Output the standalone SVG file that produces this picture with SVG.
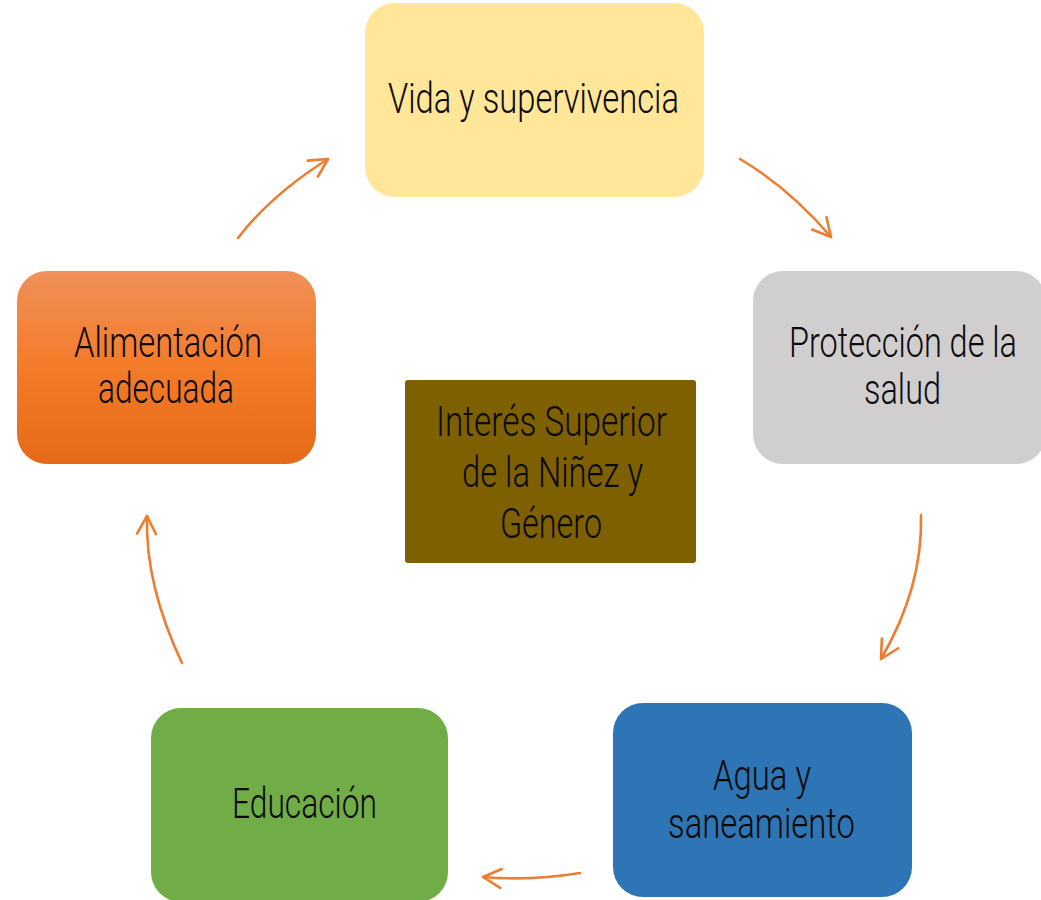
<svg xmlns="http://www.w3.org/2000/svg" width="1041" height="900" viewBox="0 0 1041 900">
<style>
  .lbl { font-family: "Roboto", "Liberation Sans Narrow", "Liberation Sans", sans-serif; font-weight: 300; font-size: 42px; fill: #0a0a0a; text-anchor: middle; }
  .conn { fill: none; stroke: #ED7D31; stroke-width: 2.6; stroke-linecap: round; marker-end: url(#arrow); }
</style>
<defs>
  <marker id="arrow" markerUnits="userSpaceOnUse" markerWidth="26" markerHeight="26" viewBox="-22 -13 26 26" refX="0" refY="0" orient="auto" overflow="visible">
    <path d="M -18,-9.5 L 0,0 L -18,9.5" fill="none" stroke="#ED7D31" stroke-width="2.6" stroke-linecap="round" stroke-linejoin="round"/>
  </marker>
  <linearGradient id="orangeGrad" x1="0" y1="0" x2="0" y2="1">
    <stop offset="0" stop-color="#F0905A"/>
    <stop offset="0.5" stop-color="#F47B28"/>
    <stop offset="1" stop-color="#E56A17"/>
  </linearGradient>
</defs>
<rect width="1041" height="900" fill="#ffffff"/>

<g id="connectors">
  <path class="conn" d="M 238,238 Q 271,195 328,159"/>
  <path class="conn" d="M 740,159 Q 789,188 831,237"/>
  <path class="conn" d="M 921,515 Q 923,587 881,659"/>
  <path class="conn" d="M 580,873 Q 531,881 483,877"/>
  <path class="conn" d="M 182,663 Q 145,585 147,516"/>
</g>

<g id="node-vida">
  <rect x="365" y="3" width="339" height="194" rx="30" fill="#FFE699"/>
  <text class="lbl" x="533.5" y="113" textLength="291" lengthAdjust="spacingAndGlyphs">Vida y supervivencia</text>
</g>

<g id="node-salud">
  <rect x="753" y="271" width="293" height="193" rx="30" fill="#D0CECE"/>
  <text class="lbl" x="903" y="357" textLength="228" lengthAdjust="spacingAndGlyphs">Protección de la</text>
  <text class="lbl" x="902.5" y="404" textLength="77" lengthAdjust="spacingAndGlyphs">salud</text>
</g>

<g id="node-agua">
  <rect x="613" y="703" width="299" height="194" rx="30" fill="#2E75B6"/>
  <text class="lbl" x="762" y="790" textLength="98" lengthAdjust="spacingAndGlyphs">Agua y</text>
  <text class="lbl" x="761.5" y="838" textLength="187" lengthAdjust="spacingAndGlyphs">saneamiento</text>
</g>

<g id="node-educacion">
  <rect x="151" y="708" width="297" height="194" rx="30" fill="#70AD47"/>
  <text class="lbl" x="304.5" y="818" textLength="145" lengthAdjust="spacingAndGlyphs">Educación</text>
</g>

<g id="node-alimentacion">
  <rect x="17" y="271" width="299" height="193" rx="30" fill="url(#orangeGrad)"/>
  <text class="lbl" x="168" y="357" textLength="188" lengthAdjust="spacingAndGlyphs">Alimentación</text>
  <text class="lbl" x="166" y="403" textLength="136" lengthAdjust="spacingAndGlyphs">adecuada</text>
</g>

<g id="node-centro">
  <rect x="405" y="380" width="291" height="183" rx="3" fill="#7F6000"/>
  <text class="lbl" x="551.5" y="436" textLength="231" lengthAdjust="spacingAndGlyphs">Interés Superior</text>
  <text class="lbl" x="552.5" y="487" textLength="181" lengthAdjust="spacingAndGlyphs">de la Niñez y</text>
  <text class="lbl" x="551" y="538" textLength="102" lengthAdjust="spacingAndGlyphs">Género</text>
</g>
</svg>
